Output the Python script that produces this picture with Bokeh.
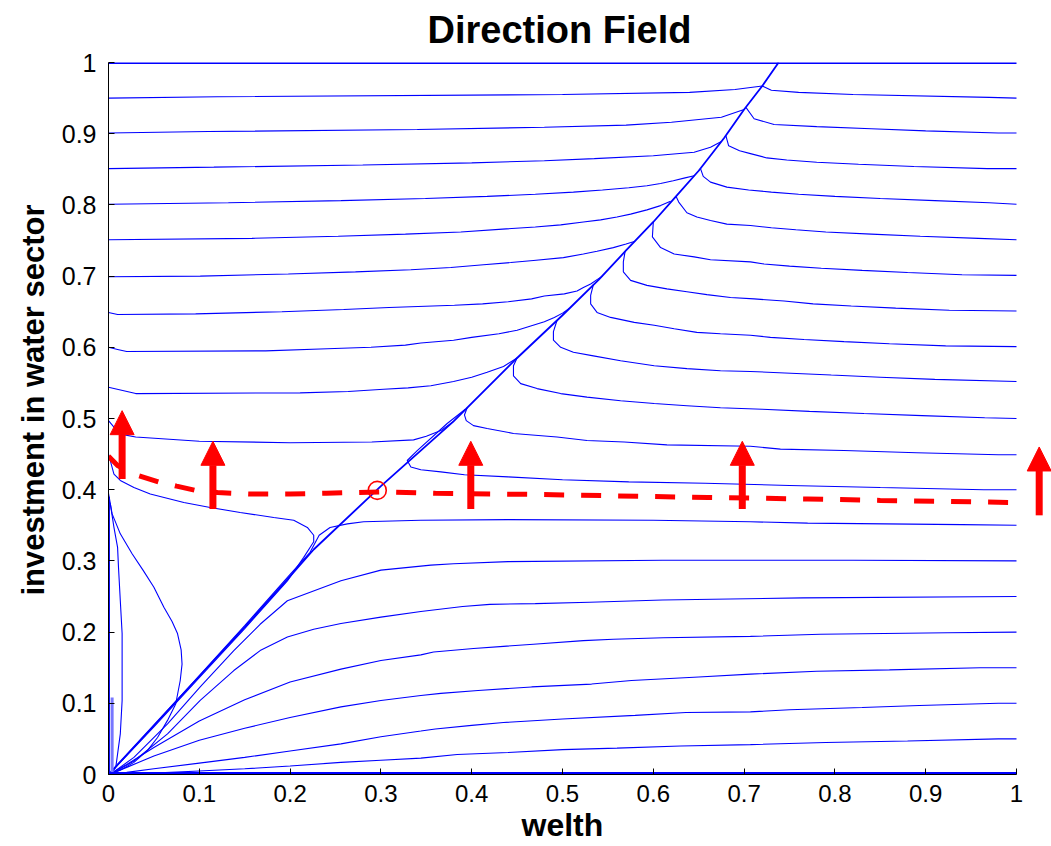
from bokeh.plotting import figure
from bokeh.models import Range1d, FixedTicker, Arrow, NormalHead, ColumnDataSource, Title
from bokeh.embed import file_html
from bokeh.resources import INLINE

# ---------------- data ----------------
TICKS = [0, 0.1, 0.2, 0.3, 0.4, 0.5, 0.6, 0.7, 0.8, 0.9, 1]
TICK_LABELS = ["0", "0.1", "0.2", "0.3", "0.4", "0.5", "0.6", "0.7", "0.8", "0.9", "1"]

# attracting curve (wealth vs investment)
DIAG_X = [0, 0.05, 0.10, 0.15, 0.197, 0.226, 0.30, 0.38, 0.45, 0.50, 0.54, 0.57, 0.60, 0.625, 0.65, 0.678, 0.70, 0.72, 0.738]
DIAG_Y = [0, 0.069, 0.138, 0.207, 0.274, 0.316, 0.405, 0.496, 0.585, 0.645, 0.695, 0.736, 0.776, 0.812, 0.848, 0.894, 0.934, 0.967, 1.0]

TOP_X = [0, 1]
TOP_Y = [1, 1]
BOT_X = [0, 1]
BOT_Y = [0, 0]

LINE95_X = [0, 0.12, 0.5, 0.64, 0.69, 0.72, 0.73, 0.76, 0.82, 0.97, 1.0]
LINE95_Y = [0.950, 0.952, 0.955, 0.958, 0.962, 0.967, 0.961, 0.958, 0.955, 0.951, 0.950]

L90_X = [0, 0.11, 0.34, 0.48, 0.57, 0.62, 0.675, 0.70]
L90_Y = [0.901, 0.903, 0.906, 0.909, 0.912, 0.916, 0.923, 0.934]
L85_X = [0, 0.116, 0.28, 0.40, 0.48, 0.535, 0.60, 0.645, 0.663, 0.675]
L85_Y = [0.851, 0.853, 0.856, 0.859, 0.862, 0.865, 0.869, 0.874, 0.881, 0.889]
L80_X = [0, 0.132, 0.256, 0.349, 0.417, 0.47, 0.512, 0.544, 0.573, 0.593, 0.608, 0.622, 0.635, 0.645]
L80_Y = [0.801, 0.803, 0.806, 0.809, 0.812, 0.815, 0.818, 0.821, 0.824, 0.827, 0.830, 0.834, 0.838, 0.841]
L75_X = [0, 0.158, 0.253, 0.327, 0.388, 0.434, 0.47, 0.498, 0.523, 0.542, 0.56, 0.575, 0.593, 0.608, 0.619]
L75_Y = [0.751, 0.753, 0.756, 0.759, 0.762, 0.766, 0.769, 0.772, 0.776, 0.779, 0.783, 0.787, 0.793, 0.799, 0.805]
L70_X = [0, 0.101, 0.198, 0.272, 0.333, 0.377, 0.413, 0.443, 0.468, 0.501, 0.523, 0.538, 0.556, 0.57, 0.58]
L70_Y = [0.699, 0.700, 0.703, 0.706, 0.709, 0.712, 0.716, 0.719, 0.722, 0.726, 0.731, 0.735, 0.740, 0.745, 0.749]
L65_X = [0, 0.01, 0.096, 0.191, 0.259, 0.309, 0.381, 0.412, 0.44, 0.466, 0.48, 0.502, 0.516, 0.523, 0.531, 0.538, 0.544]
L65_Y = [0.649, 0.646, 0.647, 0.650, 0.653, 0.656, 0.659, 0.661, 0.664, 0.668, 0.672, 0.675, 0.679, 0.684, 0.689, 0.695, 0.700]
L60_X = [0, 0.01, 0.02, 0.173, 0.241, 0.289, 0.327, 0.344, 0.38, 0.40, 0.43, 0.45, 0.465, 0.48, 0.491, 0.50, 0.508]
L60_Y = [0.600, 0.597, 0.594, 0.595, 0.598, 0.600, 0.603, 0.606, 0.610, 0.614, 0.619, 0.624, 0.630, 0.636, 0.642, 0.648, 0.655]
L55_X = [0, 0.03, 0.211, 0.264, 0.303, 0.33, 0.355, 0.38, 0.40, 0.417, 0.435, 0.45]
L55_Y = [0.544, 0.535, 0.536, 0.538, 0.541, 0.543, 0.546, 0.552, 0.558, 0.565, 0.573, 0.585]
L50_X = [0, 0.006, 0.013, 0.03, 0.1, 0.2, 0.29, 0.336, 0.35, 0.366, 0.38]
L50_Y = [0.497, 0.488, 0.478, 0.474, 0.468, 0.466, 0.467, 0.470, 0.475, 0.483, 0.496]
L45_X = [0, 0.006, 0.013, 0.028, 0.046, 0.083, 0.112, 0.145, 0.182, 0.204, 0.219, 0.226, 0.226, 0.215, 0.197, 0.15, 0.10, 0.05, 0.01, 0]
L45_Y = [0.450, 0.422, 0.413, 0.403, 0.394, 0.382, 0.375, 0.368, 0.361, 0.357, 0.347, 0.336, 0.327, 0.305, 0.272, 0.205, 0.136, 0.067, 0.013, 0]
L40_X = [0, 0.004, 0.013, 0.026, 0.038, 0.05, 0.061, 0.07, 0.076, 0.08, 0.081, 0.079, 0.074, 0.065, 0.054, 0.043, 0.028, 0.013, 0]
L40_Y = [0.395, 0.366, 0.338, 0.310, 0.287, 0.263, 0.235, 0.215, 0.198, 0.175, 0.155, 0.132, 0.099, 0.076, 0.052, 0.034, 0.017, 0.006, 0]
L38_X = [0, 0.002, 0.006, 0.010, 0.011, 0.013, 0.015, 0.015, 0.015, 0.013, 0.008, 0.002]
L38_Y = [0.385, 0.380, 0.347, 0.319, 0.291, 0.244, 0.198, 0.151, 0.104, 0.057, 0.010, 0.0]
EDGE_X = [0.001, 0.001]
EDGE_Y = [0.0, 0.39]
EDGE2_X = [0.004, 0.004]
EDGE2_Y = [0.0, 0.108]

R90_X = [0.702, 0.711, 0.733, 0.78, 0.84, 0.90, 0.98, 1.0]
R90_Y = [0.937, 0.921, 0.913, 0.910, 0.907, 0.904, 0.901, 0.901]
R85_X = [0.68, 0.683, 0.695, 0.707, 0.725, 0.747, 0.78, 0.826, 0.887, 0.968, 1.0]
R85_Y = [0.897, 0.883, 0.876, 0.872, 0.866, 0.863, 0.860, 0.857, 0.854, 0.851, 0.851]
R80_X = [0.652, 0.655, 0.663, 0.681, 0.705, 0.73, 0.76, 0.80, 0.85, 0.91, 0.97, 1.0]
R80_Y = [0.851, 0.840, 0.832, 0.825, 0.821, 0.818, 0.815, 0.812, 0.809, 0.806, 0.803, 0.801]
R75_X = [0.625, 0.628, 0.637, 0.648, 0.663, 0.681, 0.707, 0.73, 0.757, 0.79, 0.84, 0.894, 0.958, 1.0]
R75_Y = [0.812, 0.804, 0.789, 0.783, 0.778, 0.773, 0.771, 0.768, 0.765, 0.762, 0.759, 0.756, 0.753, 0.751]
R70_X = [0.60, 0.599, 0.608, 0.623, 0.645, 0.663, 0.707, 0.722, 0.75, 0.785, 0.83, 0.88, 0.94, 1.0]
R70_Y = [0.776, 0.755, 0.740, 0.731, 0.727, 0.723, 0.720, 0.717, 0.714, 0.711, 0.708, 0.705, 0.702, 0.701]
R65_X = [0.569, 0.567, 0.567, 0.575, 0.593, 0.615, 0.637, 0.659, 0.685, 0.711, 0.744, 0.776, 0.818, 0.867, 0.926, 1.0]
R65_Y = [0.735, 0.720, 0.706, 0.694, 0.687, 0.682, 0.678, 0.674, 0.670, 0.668, 0.665, 0.661, 0.658, 0.655, 0.652, 0.651]
R60_X = [0.534, 0.531, 0.531, 0.538, 0.553, 0.579, 0.601, 0.623, 0.648, 0.674, 0.707, 0.729, 0.766, 0.81, 0.86, 0.922, 1.0]
R60_Y = [0.688, 0.673, 0.661, 0.649, 0.642, 0.635, 0.631, 0.626, 0.621, 0.619, 0.617, 0.614, 0.611, 0.608, 0.605, 0.602, 0.601]
R55_X = [0.494, 0.490, 0.490, 0.498, 0.512, 0.534, 0.564, 0.601, 0.637, 0.674, 0.707, 0.745, 0.796, 0.85, 0.91, 1.0]
R55_Y = [0.638, 0.622, 0.610, 0.600, 0.593, 0.588, 0.581, 0.574, 0.570, 0.567, 0.566, 0.564, 0.561, 0.558, 0.555, 0.552]
R50_X = [0.45, 0.446, 0.446, 0.454, 0.472, 0.498, 0.527, 0.564, 0.601, 0.637, 0.674, 0.72, 0.772, 0.832, 0.896, 0.965, 1.0]
R50_Y = [0.585, 0.574, 0.560, 0.549, 0.542, 0.535, 0.530, 0.525, 0.521, 0.518, 0.515, 0.513, 0.510, 0.507, 0.504, 0.501, 0.500]
R45_X = [0.395, 0.392, 0.394, 0.402, 0.417, 0.446, 0.494, 0.527, 0.568, 0.615, 0.707, 0.74, 0.81, 0.89, 0.98, 1.0]
R45_Y = [0.515, 0.505, 0.497, 0.490, 0.486, 0.479, 0.474, 0.469, 0.467, 0.463, 0.461, 0.457, 0.455, 0.452, 0.449, 0.449]
R40_X = [1.0, 0.964, 0.85, 0.75, 0.657, 0.573, 0.50, 0.44, 0.392, 0.366, 0.344, 0.333, 0.329, 0.34, 0.373, 0.393]
R40_Y = [0.400, 0.400, 0.403, 0.406, 0.409, 0.411, 0.414, 0.418, 0.421, 0.425, 0.428, 0.432, 0.441, 0.455, 0.493, 0.513]
R35_X = [1.0, 0.94, 0.77, 0.707, 0.60, 0.44, 0.344, 0.281, 0.263, 0.244, 0.232, 0.222, 0.20, 0.15, 0.10, 0.05, 0]
R35_Y = [0.350, 0.351, 0.353, 0.355, 0.357, 0.358, 0.357, 0.355, 0.352, 0.347, 0.336, 0.312, 0.281, 0.209, 0.139, 0.069, 0]
R30_X = [1.0, 0.82, 0.61, 0.44, 0.38, 0.355, 0.30, 0.256, 0.197, 0.167, 0.138, 0.101, 0.065, 0.028, 0.005, 0]
R30_Y = [0.300, 0.301, 0.301, 0.299, 0.296, 0.294, 0.287, 0.272, 0.244, 0.211, 0.174, 0.123, 0.071, 0.024, 0.003, 0]
R25_X = [1.0, 0.765, 0.61, 0.53, 0.47, 0.42, 0.39, 0.344, 0.30, 0.256, 0.226, 0.197, 0.167, 0.138, 0.101, 0.065, 0.028, 0.005, 0]
R25_Y = [0.250, 0.248, 0.245, 0.242, 0.240, 0.239, 0.236, 0.229, 0.221, 0.212, 0.204, 0.193, 0.174, 0.146, 0.104, 0.057, 0.019, 0.002, 0]
R20_X = [1.0, 0.924, 0.784, 0.707, 0.611, 0.556, 0.523, 0.468, 0.435, 0.402, 0.358, 0.344, 0.30, 0.256, 0.20, 0.15, 0.10, 0.05, 0.02, 0]
R20_Y = [0.200, 0.199, 0.197, 0.194, 0.192, 0.190, 0.188, 0.183, 0.180, 0.177, 0.172, 0.168, 0.160, 0.148, 0.130, 0.105, 0.075, 0.038, 0.014, 0]
R15_X = [1.0, 0.96, 0.86, 0.78, 0.707, 0.65, 0.576, 0.532, 0.466, 0.407, 0.366, 0.344, 0.30, 0.256, 0.20, 0.15, 0.10, 0.05, 0.02, 0]
R15_Y = [0.150, 0.150, 0.147, 0.145, 0.141, 0.137, 0.132, 0.127, 0.123, 0.118, 0.114, 0.111, 0.104, 0.095, 0.080, 0.065, 0.048, 0.026, 0.010, 0]
R10_X = [1.0, 0.98, 0.893, 0.83, 0.75, 0.707, 0.636, 0.58, 0.50, 0.435, 0.40, 0.36, 0.344, 0.30, 0.256, 0.20, 0.15, 0.10, 0.05, 0.02, 0]
R10_Y = [0.100, 0.100, 0.097, 0.094, 0.091, 0.088, 0.087, 0.083, 0.078, 0.073, 0.069, 0.064, 0.061, 0.053, 0.043, 0.033, 0.024, 0.016, 0.008, 0.003, 0]
R05_X = [1.0, 0.98, 0.88, 0.79, 0.707, 0.63, 0.56, 0.50, 0.44, 0.384, 0.344, 0.30, 0.256, 0.20, 0.15, 0.10, 0.05, 0]
R05_Y = [0.050, 0.050, 0.047, 0.045, 0.042, 0.040, 0.037, 0.035, 0.031, 0.028, 0.023, 0.020, 0.017, 0.012, 0.008, 0.005, 0.002, 0]

# red overlay: threshold curve, equilibrium point, direction arrows
DASH_X = [0, 0.01, 0.03, 0.055, 0.075, 0.096, 0.12, 0.155, 0.2, 0.24, 0.30, 0.36, 0.49, 0.66, 0.77, 0.85, 1.0]
DASH_Y = [0.447, 0.434, 0.421, 0.411, 0.405, 0.399, 0.396, 0.394, 0.394, 0.395, 0.397, 0.395, 0.393, 0.389, 0.387, 0.385, 0.382]
EQ_X = [0.296]
EQ_Y = [0.399]
ARROW_X = [0.015, 0.115, 0.399, 0.698, 1.025]
ARROW_Y0 = [0.415, 0.373, 0.373, 0.373, 0.364]
ARROW_Y1 = [0.511, 0.468, 0.468, 0.468, 0.460]

# ---------------- figure ----------------
LEFT, TOP, UNIT = 108, 62, 908
W, H = 1051, 846
p = figure(width=W, height=H, output_backend="svg", toolbar_location=None,
           x_range=Range1d(0, (W - LEFT) / UNIT), y_range=Range1d(0, 1),
           min_border_left=LEFT, min_border_right=0, min_border_top=TOP, min_border_bottom=72,
           title="Direction Field")
p.outline_line_color = None
p.xgrid.visible = False
p.ygrid.visible = False
p.background_fill_color = "white"
p.border_fill_color = "white"

p.title.text_font = "Liberation Sans"
p.title.text_font_size = "38px"
p.title.text_font_style = "bold"
p.title.text_color = "black"
p.title.align = "left"
p.title.offset = 319
p.title.vertical_align = "top"
p.title.standoff = 17.5

for ax in (p.xaxis[0], p.yaxis[0]):
    ax.ticker = FixedTicker(ticks=TICKS)
    ax.major_label_overrides = {t: l for t, l in zip(TICKS, TICK_LABELS)}
    ax.bounds = (0, 1)
    ax.major_tick_in = 6
    ax.major_tick_out = 0
    ax.major_tick_line_color = "black"
    ax.minor_tick_line_color = None
    ax.axis_line_color = "black"
    ax.axis_line_width = 1
    ax.major_label_text_font = "Liberation Sans"
    ax.major_label_text_color = "black"

p.xaxis.major_label_text_font_size = "24px"
p.xaxis.major_label_standoff = 10
p.yaxis.major_label_text_font_size = "25px"
p.yaxis.major_label_standoff = 12

xlab = Title(text="welth", text_font="Liberation Sans", text_font_size="32px",
             text_font_style="bold", text_color="black", align="left", offset=413,
             vertical_align="bottom", standoff=1)
p.add_layout(xlab, "below")
ylab = Title(text="investment in water sector", text_font="Liberation Sans", text_font_size="31px",
             text_font_style="bold", text_color="black", align="left", offset=179,
             vertical_align="bottom", standoff=16)
p.add_layout(ylab, "left")

BLUE = "#0000ff"
curves = [
    (LINE95_X, LINE95_Y), (L90_X, L90_Y), (L85_X, L85_Y), (L80_X, L80_Y), (L75_X, L75_Y),
    (L70_X, L70_Y), (L65_X, L65_Y), (L60_X, L60_Y), (L55_X, L55_Y), (L50_X, L50_Y),
    (L45_X, L45_Y), (L40_X, L40_Y), (L38_X, L38_Y), (EDGE_X, EDGE_Y),
    (R90_X, R90_Y), (R85_X, R85_Y), (R80_X, R80_Y), (R75_X, R75_Y), (R70_X, R70_Y),
    (R65_X, R65_Y), (R60_X, R60_Y), (R55_X, R55_Y), (R50_X, R50_Y), (R45_X, R45_Y),
    (R40_X, R40_Y), (R35_X, R35_Y), (R30_X, R30_Y), (R25_X, R25_Y), (R20_X, R20_Y),
    (R15_X, R15_Y), (R10_X, R10_Y), (R05_X, R05_Y),
]
src = ColumnDataSource(dict(xs=[c[0] for c in curves], ys=[c[1] for c in curves]))
p.multi_line(xs="xs", ys="ys", source=src, line_color=BLUE, line_width=1.1)

p.line(DIAG_X, DIAG_Y, line_color=BLUE, line_width=1.8)
p.line(EDGE2_X, EDGE2_Y, line_color="#7777ff", line_width=3)
p.line(TOP_X, TOP_Y, line_color=BLUE, line_width=3)
p.line(BOT_X, BOT_Y, line_color=BLUE, line_width=5)

# red overlay
p.line(DASH_X, DASH_Y, line_color="#ff0000", line_width=5, line_dash="20 17")
p.scatter(EQ_X, EQ_Y, marker="circle", size=18, fill_color=None, line_color="#ff0000", line_width=1.6)
for ax_, y0, y1 in zip(ARROW_X, ARROW_Y0, ARROW_Y1):
    p.add_layout(Arrow(end=NormalHead(size=24, fill_color="#ff0000", line_color="#ff0000", line_width=1),
                       x_start=ax_, y_start=y0, x_end=ax_, y_end=y1,
                       line_color="#ff0000", line_width=7))

open("out.html", "w").write(file_html(p, INLINE))
